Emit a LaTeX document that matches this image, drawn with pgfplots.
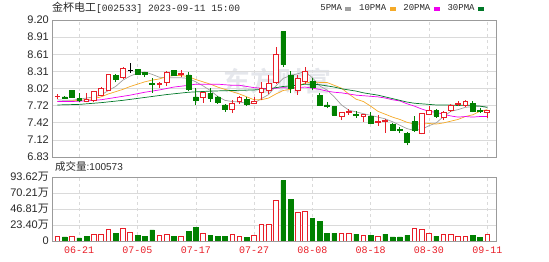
\documentclass[border=0pt]{standalone}
\usepackage{pgfplots}
\pgfplotsset{compat=1.18}
\usepackage{pgfplotstable}
\usepackage{fontspec}
\setmainfont{Liberation Sans}
\newfontfamily\cjk{Noto Sans CJK SC}
\newfontfamily\cjkb{Noto Sans CJK SC Bold}
\newfontfamily\mono{Liberation Mono}
\definecolor{cred}{RGB}{232,30,40}
\definecolor{cgreen}{RGB}{0,128,0}
\definecolor{maA}{RGB}{160,160,160}
\definecolor{maB}{RGB}{245,170,40}
\definecolor{maC}{RGB}{238,0,238}
\definecolor{maD}{RGB}{0,120,40}
\definecolor{gridc}{RGB}{218,218,218}
\definecolor{framec}{RGB}{155,155,155}
\definecolor{lbl}{RGB}{40,40,40}
\definecolor{wm}{RGB}{229,231,236}

\pgfplotstableread{
i o h l c
0 7.87 7.92 7.83 7.88
4 7.80 7.94 7.78 7.82
5 7.81 7.98 7.79 7.97
6 7.90 8.04 7.88 8.02
7 7.99 8.27 7.97 8.26
9 8.20 8.39 8.18 8.36
14 8.08 8.12 8.02 8.10
15 8.12 8.31 8.06 8.29
17 8.26 8.33 8.22 8.28
20 7.86 7.96 7.77 7.94
24 7.65 7.82 7.59 7.76
25 7.79 7.88 7.75 7.86
27 7.76 7.86 7.74 7.80
28 7.95 8.13 7.82 8.02
29 7.99 8.25 7.92 8.11
30 8.12 8.74 8.10 8.60
33 7.98 8.25 7.91 8.19
34 8.13 8.38 8.10 8.31
39 7.53 7.61 7.47 7.60
40 7.60 7.66 7.56 7.62
42 7.53 7.57 7.44 7.56
44 7.43 7.55 7.37 7.45
45 7.45 7.49 7.25 7.47
50 7.23 7.58 7.22 7.58
51 7.57 7.71 7.55 7.63
53 7.52 7.62 7.47 7.60
54 7.63 7.75 7.61 7.73
55 7.74 7.80 7.71 7.76
56 7.73 7.81 7.70 7.80
59 7.60 7.63 7.50 7.63
}\redk

\pgfplotstableread{
i o h l c
1 7.87 7.88 7.84 7.85
2 7.98 7.99 7.85 7.86
3 7.85 7.93 7.78 7.82
8 8.24 8.26 8.12 8.18
11 8.35 8.36 8.26 8.27
12 8.29 8.30 8.21 8.26
13 8.11 8.20 7.94 8.09
16 8.33 8.34 8.24 8.25
18 8.25 8.30 7.97 8.01
19 7.87 8.02 7.73 7.82
21 7.93 8.02 7.79 7.85
22 7.87 7.88 7.75 7.77
23 7.73 7.74 7.61 7.65
26 7.83 7.86 7.71 7.75
31 9.00 9.00 8.39 8.43
32 8.25 8.31 7.93 8.02
35 8.14 8.19 7.99 8.03
36 7.90 7.93 7.71 7.73
37 7.73 7.79 7.67 7.71
38 7.70 7.72 7.55 7.56
41 7.57 7.62 7.51 7.55
43 7.53 7.60 7.40 7.41
46 7.39 7.42 7.28 7.30
47 7.31 7.35 7.24 7.29
48 7.24 7.26 7.03 7.08
49 7.44 7.54 7.26 7.29
52 7.64 7.66 7.51 7.54
57 7.76 7.80 7.60 7.62
58 7.64 7.67 7.59 7.62
}\greenk

\pgfplotstableread{
i v
0 7.82
1 7.81
2 7.81
3 7.83
4 7.85
5 7.87
6 7.90
7 7.98
8 8.05
9 8.16
10 8.23
11 8.28
12 8.30
13 8.26
14 8.21
15 8.20
16 8.20
17 8.20
18 8.19
19 8.13
20 8.06
21 7.98
22 7.88
23 7.81
24 7.79
25 7.78
26 7.76
27 7.76
28 7.84
29 7.91
30 8.06
31 8.19
32 8.24
33 8.27
34 8.31
35 8.20
36 8.06
37 7.99
38 7.87
39 7.73
40 7.64
41 7.61
42 7.58
43 7.55
44 7.52
45 7.49
46 7.44
47 7.38
48 7.32
49 7.29
50 7.31
51 7.37
52 7.42
53 7.53
54 7.62
55 7.65
56 7.69
57 7.70
58 7.71
59 7.69
}\maa

\pgfplotstableread{
i v
0 7.79
1 7.79
2 7.80
3 7.81
4 7.82
5 7.84
6 7.87
7 7.92
8 7.96
9 8.00
10 8.05
11 8.09
12 8.13
13 8.16
14 8.18
15 8.22
16 8.24
17 8.24
18 8.22
19 8.17
20 8.13
21 8.09
22 8.04
23 8.00
24 7.96
25 7.92
26 7.87
27 7.82
28 7.82
29 7.85
30 7.92
31 7.98
32 8.00
33 8.05
34 8.11
35 8.13
36 8.12
37 8.12
38 8.07
39 8.02
40 7.92
41 7.83
42 7.79
43 7.71
44 7.62
45 7.57
46 7.52
47 7.48
48 7.43
49 7.40
50 7.40
51 7.41
52 7.40
53 7.42
54 7.45
55 7.48
56 7.53
57 7.56
58 7.62
59 7.65
}\mab

\pgfplotstableread{
i v
0 7.79
2 7.79
4 7.80
6 7.82
8 7.86
10 7.90
12 7.95
14 7.99
16 8.04
18 8.07
19 8.09
20 8.09
21 8.09
22 8.09
23 8.08
24 8.07
25 8.07
26 8.05
27 8.03
28 8.02
29 8.01
30 8.02
31 8.03
32 8.02
33 8.03
34 8.04
35 8.02
36 8.00
37 7.97
38 7.95
39 7.94
40 7.92
41 7.90
42 7.89
43 7.88
44 7.87
45 7.85
46 7.82
47 7.80
48 7.75
49 7.71
50 7.66
51 7.62
52 7.60
53 7.57
54 7.54
55 7.52
56 7.53
57 7.52
58 7.53
59 7.53
}\mac

\pgfplotstableread{
i v
0 7.73
3 7.74
6 7.77
9 7.81
12 7.86
15 7.91
18 7.95
21 7.97
24 7.98
27 7.99
29 8.01
30 8.03
31 8.05
32 8.06
33 8.07
34 8.09
35 8.09
36 8.08
37 8.06
38 8.04
39 8.01
40 7.99
41 7.97
42 7.94
43 7.92
44 7.90
45 7.87
46 7.84
47 7.81
48 7.78
49 7.76
50 7.75
51 7.74
52 7.73
53 7.73
54 7.73
55 7.72
56 7.73
57 7.72
58 7.71
59 7.69
}\mad

\pgfplotstableread{
i v
0 7.3
2 7.3
5 9.3
6 9.3
7 17.1
9 18.5
10 13.2
14 8.3
15 9.3
17 6.8
20 11.2
24 9.8
25 7.3
27 8.3
28 24.4
29 24.4
30 60.0
33 42.5
34 43.4
39 11.7
40 11.7
42 8.3
44 7.3
49 18.1
50 16.6
51 10.7
53 9.3
54 9.8
55 7.3
56 7.3
59 10.06
}\redv

\pgfplotstableread{
i v
1 5.9
3 4.4
4 7.3
8 10.7
11 7.8
12 6.8
13 16.1
16 6.8
18 14.6
19 20.0
21 8.3
22 6.8
23 6.8
26 4.9
31 88.3
32 60.5
35 32.7
36 28.3
37 11.7
38 11.7
41 10.2
43 8.3
45 10.2
46 5.9
47 5.9
48 8.3
52 7.3
57 7.8
58 4.9
}\greenv

\pgfplotsset{
  common/.style={scale only axis, width=444pt, xmin=-0.73, xmax=60.2, anchor=south west},
  pricebox/.style={common, at={(52pt,105pt)}, height=137pt, ymin=6.83, ymax=9.20},
  volbox/.style={common, at={(52pt,21pt)}, height=64pt, ymin=0, ymax=93.62},
  framed/.style={axis line style={framec, line width=0.6pt},
    xtick={3,11,19,27,35,43,51,59},
    xmajorgrids, ymajorgrids,
    x grid style={gridc, dashed, line width=0.5pt},
    y grid style={gridc, line width=0.5pt},
    major tick length=0pt,
    yticklabel style={font=\fontsize{11}{13}\selectfont, text=lbl, inner sep=0pt, xshift=-3pt}},
}

\begin{document}
\begin{tikzpicture}
\path[use as bounding box] (0pt,0pt) rectangle (549pt,262pt);

% watermark
\node[text=wm, inner sep=0pt] at (277pt,181pt) {\cjkb\fontsize{27}{30}\selectfont 东方财富};

% price panel
\begin{axis}[pricebox, framed,
  xticklabels={},
  ytick={6.83,7.12625,7.4225,7.71875,8.015,8.31125,8.6075,8.90375,9.20},
  yticklabels={6.83,7.12,7.42,7.72,8.02,8.31,8.61,8.91,9.20},
  legend image code/.code={\fill[#1] (0pt,-1.4pt) rectangle (5pt,1.4pt);},
  legend columns=4, legend plot pos=right,
  legend style={draw=none, fill=none, inner sep=0pt,
    font=\mono\fontsize{9}{11}\selectfont, text=lbl,
    at={(axis description cs:1,1)}, anchor=east, xshift=-12pt, yshift=11.5pt,
    nodes={inner sep=0pt},
    /tikz/every odd column/.append style={column sep=3.5pt},
    /tikz/every even column/.append style={column sep=8pt}},
]
\addplot[maA, line width=0.7pt] table[x=i, y=v] {\maa};
\addlegendentry{5PMA}
\addplot[maB, line width=0.7pt] table[x=i, y=v] {\mab};
\addlegendentry{10PMA}
\addplot[maC, line width=0.7pt] table[x=i, y=v] {\mac};
\addlegendentry{20PMA}
\addplot[maD, line width=0.7pt] table[x=i, y=v] {\mad};
\addlegendentry{30PMA}
\addplot[cred, line width=0.7pt, forget plot, mark=none, quiver={u=0, v=\thisrow{h}-\thisrow{l}}] table[x=i, y=l] {\redk};
\addplot[cgreen, line width=0.7pt, forget plot, mark=none, quiver={u=0, v=\thisrow{h}-\thisrow{l}}] table[x=i, y=l] {\greenk};
\addplot[black, line width=0.7pt, forget plot, mark=none, quiver={u=0, v=0.17}] coordinates {(10,8.29)};
\addplot[black, forget plot, only marks, mark=-, mark size=2.5pt, mark options={line width=0.8pt}] coordinates {(10,8.33)};
\end{axis}

% green bodies
\begin{axis}[pricebox, hide axis, ybar stacked, bar width=4.8pt]
\addplot[draw=none, fill=none] table[x=i, y=c] {\greenk};
\addplot[draw=cgreen, fill=cgreen, line width=0.5pt] table[x=i, y expr=\thisrow{o}-\thisrow{c}] {\greenk};
\end{axis}

% red bodies
\begin{axis}[pricebox, hide axis, ybar stacked, bar width=4.8pt]
\addplot[draw=none, fill=none] table[x=i, y=o] {\redk};
\addplot[draw=cred, fill=white, line width=0.8pt] table[x=i, y expr=\thisrow{c}-\thisrow{o}] {\redk};
\end{axis}

% volume panel
\begin{axis}[volbox, framed, ybar, bar width=4.6pt,
  xticklabels={06-21,07-05,07-17,07-27,08-08,08-18,08-30,09-11},
  xticklabel style={font=\mono\fontsize{10}{12}\selectfont, text=cred, inner sep=0pt, yshift=-6pt},
  ytick={0,23.405,46.81,70.215,93.62},
  yticklabels={0,{23.40{\cjk 万}},{46.81{\cjk 万}},{70.21{\cjk 万}},{93.62{\cjk 万}}},
]
\addplot[draw=cred, fill=white, line width=0.8pt, bar shift=0pt] table[x=i, y=v] {\redv};
\addplot[draw=cgreen, fill=cgreen, line width=0.5pt, bar shift=0pt] table[x=i, y=v] {\greenv};
\end{axis}

\node[anchor=base west, inner sep=0pt, text=lbl] at (52pt,250pt)
  {{\cjk\fontsize{11}{13}\selectfont 金杯电工}{\mono\fontsize{9.6}{12}\selectfont [002533] 2023-09-11 15:00}};
\node[anchor=base west, inner sep=0pt, text=lbl] at (55pt,91pt)
  {{\cjk\fontsize{10.5}{12}\selectfont 成交量}{\fontsize{10}{12}\selectfont :100573}};
\end{tikzpicture}
\end{document}
